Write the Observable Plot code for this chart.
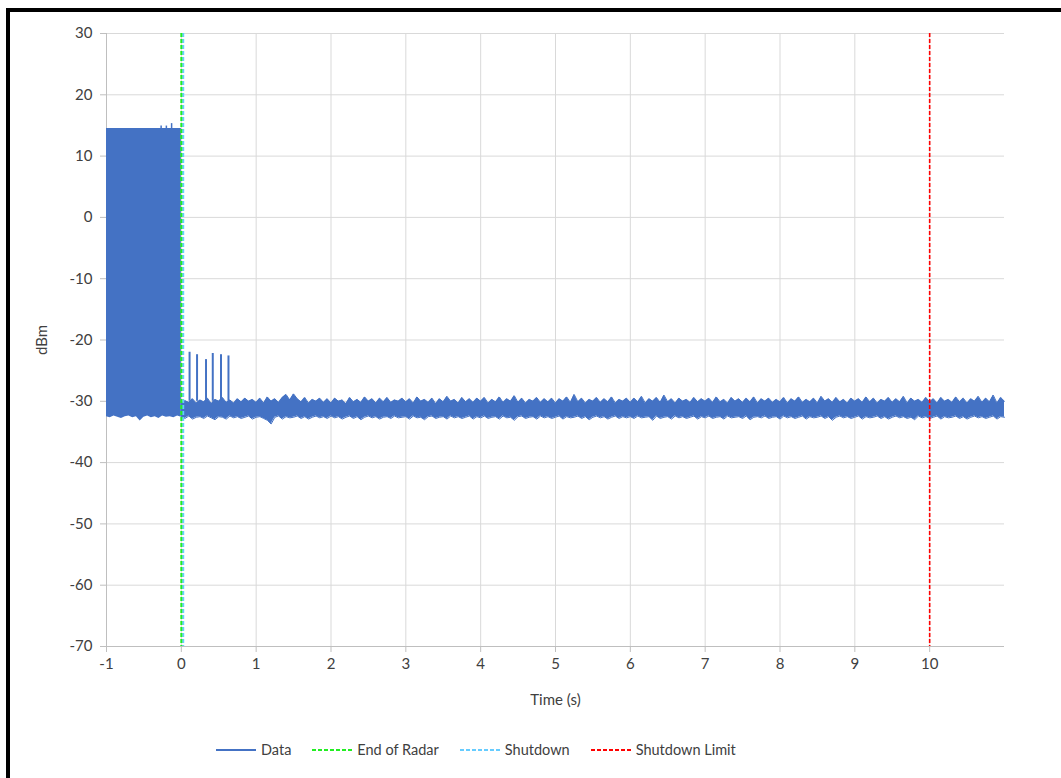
<!DOCTYPE html>
<html>
<head>
<meta charset="utf-8">
<script src="https://cdn.jsdelivr.net/npm/d3@7"></script>
<script src="https://cdn.jsdelivr.net/npm/@observablehq/plot@0.6"></script>
<style>
  html, body { margin: 0; padding: 0; background: #fff; }
  body { width: 1061px; height: 778px; overflow: hidden; position: relative; font-family: Lato, "Open Sans", sans-serif; }
  #chart { position: absolute; left: 0; top: 0; }
  #frame { position: absolute; left: 6px; top: 8px; width: 1070px; height: 800px; border-left: 4px solid #000; border-top: 4px solid #000; pointer-events: none; }
  #legend { position: absolute; left: 216px; top: 741px; display: flex; align-items: center; font-size: 14.5px; color: #404040; }
  .item { display: flex; align-items: center; margin-right: 21px; }
  .item svg { margin-right: 5px; }
</style>
</head>
<body>
<div id="chart"></div>
<div id="frame"></div>
<div id="legend"></div>
<script>
// ---- data ----
const xTicks = [-1, 0, 1, 2, 3, 4, 5, 6, 7, 8, 9, 10];
const yTicks = [-70, -60, -50, -40, -30, -20, -10, 0, 10, 20, 30];

// radar period (-1 .. 0 s): dense block envelope, 0.05 s steps
const radarTime = d3.range(0, 21).map(i => +(-1 + i * 0.05).toFixed(2));
const radarHigh = [14.5, 14.5, 14.5, 14.5, 14.5, 14.5, 14.5, 14.5, 14.5, 14.5, 14.5,
                   14.5, 14.5, 14.5, 14.5, 14.5, 14.5, 14.5, 14.5, 14.5, 14.5];
const radarLow  = [-32.5, -32.7, -32.4, -32.6, -32.8, -32.5, -32.4, -32.7, -32.5, -33.2, -32.6,
                   -32.4, -32.7, -32.5, -32.8, -32.4, -32.6, -32.5, -32.7, -32.4, -32.6];
const bumpTime = [-0.27, -0.2, -0.13];
const bumpPeak = [14.9, 14.9, 15.3];

// after radar (0 .. 11 s): noise envelope, 0.05 s steps
const noiseTime = d3.range(0, 221).map(i => +(i * 0.05).toFixed(2));
const noiseHigh = [
  -30.4,-29.9,-30.2,-29.6,-30.3,-29.8,-30.1,-29.5,-30.4,-29.7,-30.0,-29.4,-30.2,-29.8,-30.3,-29.6,-30.1,-29.5,-30.0,-29.7,
  -30.2,-29.5,-30.3,-29.3,-30.0,-29.6,-30.2,-29.4,-28.9,-29.8,-28.8,-29.6,-30.1,-29.4,-30.3,-29.7,-30.0,-29.5,-30.2,-29.6,
  -30.3,-29.5,-30.0,-29.8,-30.4,-29.4,-30.1,-29.7,-30.2,-29.3,-30.0,-29.6,-30.3,-29.5,-30.1,-29.4,-30.2,-29.8,-30.0,-29.5,
  -30.1,-29.6,-30.3,-29.3,-30.0,-29.7,-30.2,-29.5,-30.4,-29.6,-30.1,-29.2,-30.0,-29.7,-30.3,-29.4,-30.1,-29.6,-30.2,-29.5,
  -30.0,-29.4,-30.3,-29.7,-30.1,-29.3,-30.2,-29.6,-30.0,-29.1,-30.2,-29.5,-30.3,-29.7,-30.0,-29.4,-30.2,-29.6,-30.1,-29.5,
  -30.3,-29.6,-30.0,-29.3,-30.2,-28.9,-30.1,-29.5,-30.3,-29.7,-30.0,-29.4,-30.2,-29.6,-30.1,-29.3,-30.3,-29.7,-30.0,-29.5,
  -30.2,-29.5,-30.1,-29.2,-30.3,-29.6,-30.0,-29.4,-30.2,-29.0,-30.1,-29.6,-30.3,-29.5,-30.0,-29.7,-30.2,-29.4,-30.1,-29.6,
  -30.0,-29.5,-30.2,-29.3,-30.1,-29.7,-30.3,-29.4,-30.0,-29.6,-30.2,-29.5,-30.1,-29.3,-30.3,-29.6,-30.0,-29.5,-30.2,-29.7,
  -30.1,-29.4,-30.3,-29.6,-30.0,-29.3,-30.2,-29.7,-30.1,-29.5,-30.3,-29.2,-30.0,-29.6,-30.2,-29.4,-30.1,-29.7,-30.3,-29.5,
  -30.0,-29.6,-30.2,-29.3,-30.1,-29.5,-30.3,-29.7,-30.0,-29.4,-30.2,-29.6,-30.1,-29.2,-30.3,-29.5,-30.0,-29.7,-30.2,-29.4,
  -30.1,-29.6,-30.3,-29.4,-30.0,-29.7,-30.2,-29.3,-30.1,-29.5,-30.3,-29.6,-30.0,-29.2,-30.2,-29.5,-30.1,-29.0,-30.3,-29.4,
  -30.0
];
const noiseLow = [
  -32.5,-32.8,-32.4,-32.9,-32.6,-32.5,-32.8,-32.4,-32.7,-33.0,-32.5,-32.6,-32.9,-32.4,-32.7,-32.5,-32.8,-32.6,-32.4,-32.9,
  -32.6,-32.5,-32.8,-33.1,-33.7,-32.6,-32.4,-32.9,-32.5,-32.7,-32.6,-32.4,-32.8,-32.5,-32.9,-32.6,-32.4,-32.7,-32.5,-32.8,
  -32.4,-32.7,-32.5,-32.9,-32.6,-32.4,-32.8,-32.5,-33.0,-32.6,-32.4,-32.7,-32.5,-32.9,-32.6,-32.5,-32.8,-32.4,-32.7,-32.6,
  -32.5,-32.9,-32.4,-32.7,-32.6,-33.0,-32.5,-32.4,-32.8,-32.6,-32.5,-32.9,-32.4,-32.7,-32.5,-32.8,-32.6,-32.4,-32.9,-32.5,
  -32.7,-32.4,-32.8,-32.6,-32.5,-32.9,-32.4,-32.7,-32.6,-33.1,-32.5,-32.4,-32.8,-32.6,-32.5,-32.9,-32.4,-32.7,-32.5,-32.8,
  -32.6,-32.4,-32.9,-32.5,-32.7,-32.6,-32.4,-32.8,-32.5,-33.0,-32.6,-32.4,-32.7,-32.5,-32.9,-32.6,-32.4,-32.8,-32.5,-32.7,
  -32.5,-32.8,-32.4,-32.7,-32.6,-32.5,-33.1,-32.4,-32.8,-32.6,-32.5,-32.9,-32.4,-32.7,-32.5,-32.8,-32.6,-32.4,-32.9,-32.5,
  -32.7,-32.4,-32.8,-32.6,-32.5,-32.9,-32.4,-32.7,-32.6,-32.5,-32.8,-32.4,-33.0,-32.6,-32.5,-32.7,-32.4,-32.8,-32.6,-32.5,
  -32.9,-32.4,-32.7,-32.5,-32.8,-32.6,-32.4,-32.9,-32.5,-32.7,-32.6,-32.4,-32.8,-32.5,-33.1,-32.6,-32.4,-32.7,-32.5,-32.8,
  -32.6,-32.4,-32.9,-32.5,-32.7,-32.6,-32.4,-32.8,-32.5,-32.9,-32.6,-32.4,-32.7,-32.5,-32.8,-32.6,-33.0,-32.4,-32.7,-32.5,
  -32.8,-32.6,-32.4,-32.9,-32.5,-32.7,-32.6,-32.4,-32.8,-32.5,-32.9,-32.6,-32.4,-32.7,-32.5,-32.8,-32.6,-32.4,-32.9,-32.5,
  -32.6
];

// short spikes right after the radar ends
const spikeTime = [0.11, 0.21, 0.33, 0.42, 0.53, 0.63];
const spikePeak = [-22.0, -22.4, -23.2, -22.2, -22.4, -22.6];

// event markers
const endOfRadar = 0.0;
const shutdown = 0.025;
const shutdownLimit = 10;

const series = [
  {name: "Data", color: "#4472C4", dash: null},
  {name: "End of Radar", color: "#22EE22", dash: "4,2"},
  {name: "Shutdown", color: "#66CCFF", dash: "4,2"},
  {name: "Shutdown Limit", color: "#FF0000", dash: "4,2"}
];

// ---- tables ----
const radar = radarTime.map((t, i) => ({t, hi: radarHigh[i], lo: radarLow[i]}));
const noise = noiseTime.map((t, i) => ({t, hi: noiseHigh[i], lo: noiseLow[i]}));
const spikes = spikeTime.map((t, i) => ({t, peak: spikePeak[i]}));
const bumps = bumpTime.map((t, i) => ({t, peak: bumpPeak[i]}));

const blue = series[0].color;
const fmt = d => String(d);

const chart = Plot.plot({
  width: 1061,
  height: 720,
  marginLeft: 106,
  marginRight: 57,
  marginTop: 33,
  marginBottom: 74,
  style: {fontFamily: "Lato, 'Open Sans', sans-serif", fontSize: "15px", color: "#404040", background: "transparent"},
  x: {domain: [-1, 11], ticks: xTicks},
  y: {domain: [-70, 30], ticks: yTicks},
  marks: [
    Plot.ruleX(xTicks.filter(d => d > -1), {stroke: "#d9d9d9", strokeWidth: 1}),
    Plot.ruleY(yTicks.filter(d => d > -70), {stroke: "#d9d9d9", strokeWidth: 1}),
    Plot.ruleX([-1], {stroke: "#bfbfbf", strokeWidth: 1}),
    Plot.ruleY([-70], {stroke: "#bfbfbf", strokeWidth: 1}),
    Plot.axisX({ticks: xTicks, tickFormat: fmt, tickSize: 6, tickPadding: 6, stroke: "#bfbfbf", fill: "#404040", label: "Time (s)", labelAnchor: "center", labelOffset: 58, labelArrow: "none", fontSize: 15}),
    Plot.axisY({ticks: yTicks, tickFormat: fmt, tickSize: 6, tickPadding: 8, stroke: "#bfbfbf", fill: "#404040", label: "dBm", labelAnchor: "center", labelOffset: 70, labelArrow: "none", fontSize: 15}),
    Plot.areaY(radar, {x: "t", y1: "lo", y2: "hi", fill: blue}),
    Plot.ruleX(bumps, {x: "t", y1: 14.5, y2: "peak", stroke: blue, strokeWidth: 1.5}),
    Plot.areaY(noise, {x: "t", y1: "lo", y2: "hi", fill: blue}),
    Plot.line(noise, {x: "t", y: "hi", stroke: blue, strokeWidth: 1}),
    Plot.line(noise, {x: "t", y: "lo", stroke: blue, strokeWidth: 1}),
    Plot.ruleX(spikes, {x: "t", y1: -30, y2: "peak", stroke: blue, strokeWidth: 2}),
    Plot.ruleX([shutdown], {stroke: series[2].color, strokeWidth: 2, strokeDasharray: series[2].dash}),
    Plot.ruleX([endOfRadar], {stroke: series[1].color, strokeWidth: 2, strokeDasharray: series[1].dash}),
    Plot.ruleX([shutdownLimit], {stroke: series[3].color, strokeWidth: 1.6, strokeDasharray: series[3].dash})
  ]
});
document.getElementById("chart").appendChild(chart);

// legend
const legend = document.getElementById("legend");
series.forEach(s => {
  const item = document.createElement("div");
  item.className = "item";
  const ns = "http://www.w3.org/2000/svg";
  const sw = document.createElementNS(ns, "svg");
  sw.setAttribute("width", 40); sw.setAttribute("height", 10);
  const ln = document.createElementNS(ns, "line");
  ln.setAttribute("x1", 0); ln.setAttribute("x2", 40);
  ln.setAttribute("y1", 5); ln.setAttribute("y2", 5);
  ln.setAttribute("stroke", s.color);
  ln.setAttribute("stroke-width", 2);
  if (s.dash) ln.setAttribute("stroke-dasharray", s.dash);
  sw.appendChild(ln);
  const tx = document.createElement("span");
  tx.textContent = s.name;
  item.appendChild(sw); item.appendChild(tx);
  legend.appendChild(item);
});
</script>
</body>
</html>
